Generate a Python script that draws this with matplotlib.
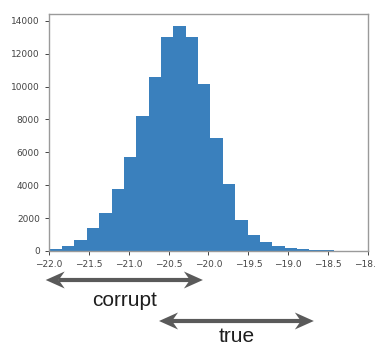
import matplotlib

matplotlib.use("Agg")
import matplotlib.pyplot as plt  # noqa: E402
import matplotlib.transforms as mtransforms  # noqa: E402
from matplotlib.patches import Polygon  # noqa: E402

# histogram: first bin edge, bin width, counts per bin
first_edge = -21.99
bin_width = 0.155
counts = [
    120, 330, 680, 1400, 2300, 3750, 5700, 8200, 10600, 13000,
    13700, 13000, 10150, 6900, 4050, 1900, 1000, 560, 320, 210,
    130, 80, 40, 15,
]
edges = [first_edge + i * bin_width for i in range(len(counts) + 1)]

x_ticks = [-22.0, -21.5, -21.0, -20.5, -20.0, -19.5, -19.0, -18.5, -18.0]
y_ticks = [0, 2000, 4000, 6000, 8000, 10000, 12000, 14000]

# range arrows under the axis: (label, left x, right x)
ranges = [
    ("corrupt", -22.04, -20.07),
    ("true", -20.62, -18.68),
]
BAR = "#3a80bd"
ARROW = "#5a5a5a"

fig = plt.figure(figsize=(3.76, 3.45), dpi=100)
ax = fig.add_axes([0.130, 0.2725, 0.849, 0.6865])
ax.hist(edges[:-1], bins=edges, weights=counts, color=BAR)
ax.set_xlim(-22.0, -18.0)
ax.set_ylim(0, 14400)
ax.set_xticks(x_ticks)
ax.set_yticks(y_ticks)
ax.tick_params(labelsize=6.5, colors="#444444", length=3, width=0.7)
for s in ax.spines.values():
    s.set_color("#9a9a9a")
    s.set_linewidth(1.0)


def double_arrow(x0, x1, y_px):
    # swept-back heads drawn in pixels; x from data, y from the top of the figure
    H = fig.bbox.height
    left = ax.transData.transform((x0, 0))[0]
    right = ax.transData.transform((x1, 0))[0]
    y = H - y_px
    L, W, notch = 19, 8.5, 13
    fig.add_artist(plt.Line2D([left + notch, right - notch], [y, y], transform=None,
                              color=ARROW, lw=3.0, solid_capstyle="butt"))
    for tip, d in ((left, 1), (right, -1)):
        pts = [(tip, y), (tip + d * L, y + W), (tip + d * notch, y), (tip + d * L, y - W)]
        fig.add_artist(Polygon(pts, closed=True, transform=None, color=ARROW, lw=0))


trans = mtransforms.blended_transform_factory(ax.transData, fig.transFigure)
arrow_y = [280, 321]
text_y = [1 - 300 / 345, 1 - 337 / 345]
for (name, x0, x1), ay, ty in zip(ranges, arrow_y, text_y):
    double_arrow(x0, x1, ay)
    ax.text((x0 + x1) / 2, ty, name, transform=trans, ha="center", va="center",
            fontsize=15, family="Liberation Sans", color="#1e1e1e")

fig.savefig("out.png", dpi=100)
